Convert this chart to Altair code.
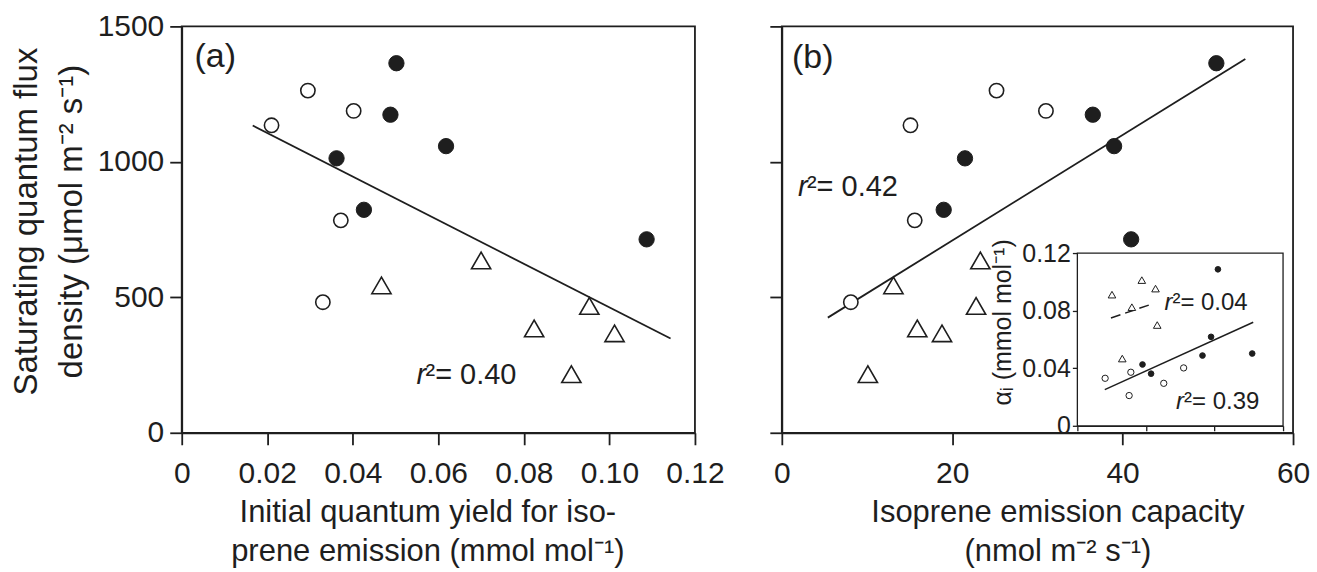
import altair as alt
import pandas as pd

FONT = "Liberation Sans"
INK = "#1e1e1e"

# ---- data ----------------------------------------------------------------
# open circles
open_yield = [0.0210, 0.0295, 0.0402, 0.0372, 0.0330]
open_cap = [15.1, 25.2, 31.0, 15.6, 8.1]
open_flux = [1135, 1263, 1188, 784, 482]
# filled circles
filled_yield = [0.0502, 0.0488, 0.0618, 0.0362, 0.0426, 0.1087]
filled_cap = [51.0, 36.5, 39.0, 21.5, 19.0, 41.0]
filled_flux = [1364, 1174, 1058, 1013, 823, 714]
# open triangles
tri_yield = [0.0467, 0.0700, 0.0953, 0.0824, 0.1012, 0.0911]
tri_cap = [13.1, 23.3, 22.8, 15.9, 18.8, 10.1]
tri_flux = [544, 636, 468, 385, 367, 216]

# regression lines (end points)
fit_a_yield = [0.0166, 0.1143]
fit_a_flux = [1134, 348]
fit_b_cap = [5.4, 54.4]
fit_b_flux = [425, 1380]
fit_in_solid_cap = [8.0, 51.3]
fit_in_solid_yield = [0.0251, 0.0719]
fit_in_dash_cap = [9.8, 21.9]
fit_in_dash_yield = [0.0749, 0.0847]

yield_ticks = [0, 0.02, 0.04, 0.06, 0.08, 0.10, 0.12]
flux_ticks = [0, 500, 1000, 1500]
cap_ticks = [0, 20, 40, 60]
inset_yield_ticks = [0, 0.04, 0.08, 0.12]

open_df = pd.DataFrame({"yield": open_yield, "cap": open_cap, "flux": open_flux})
filled_df = pd.DataFrame({"yield": filled_yield, "cap": filled_cap, "flux": filled_flux})
tri_df = pd.DataFrame({"yield": tri_yield, "cap": tri_cap, "flux": tri_flux})

fit_a = pd.DataFrame({"yield": fit_a_yield, "flux": fit_a_flux})
fit_b = pd.DataFrame({"cap": fit_b_cap, "flux": fit_b_flux})
fit_in_solid = pd.DataFrame({"cap": fit_in_solid_cap, "yield": fit_in_solid_yield})
fit_in_dash = pd.DataFrame({"cap": fit_in_dash_cap, "yield": fit_in_dash_yield})

# annotation anchors (data units)
lab_a = pd.DataFrame({"yield": [0.0030], "flux": [1386]})
r2_a = pd.DataFrame({"yield": [0.0549], "flux": [214]})
lab_b = pd.DataFrame({"cap": [1.2], "flux": [1382]})
r2_b = pd.DataFrame({"cap": [1.9], "flux": [907]})
r2_in_tri = pd.DataFrame({"cap": [25.4], "yield": [0.0856]})
r2_in_circ = pd.DataFrame({"cap": [28.8], "yield": [0.0163]})
inset_box = pd.DataFrame({"cap": [0], "cap2": [60], "yield": [0], "yield2": [0.12]})

LABEL0 = "datum.value == 0 ? '0' : format(datum.value, '.2f')"

# ---- marks ------------------------------------------------------------------
def pts(df, kind, x, y, big=True):
    if kind == "open":
        m = dict(shape="circle", fill="white", stroke=INK, strokeWidth=1.6 if big else 1.0,
                 size=205 if big else 40)
    elif kind == "filled":
        m = dict(shape="circle", fill=INK, stroke=INK, strokeWidth=1.0, size=235 if big else 32)
    else:
        m = dict(shape="triangle-up", fill="white", stroke=INK,
                 strokeWidth=1.6 if big else 1.0, size=370 if big else 58)
    return alt.Chart(df).mark_point(filled=True, opacity=1, **m).encode(x=x, y=y)


def r2(df, x, y, label, size, dx):
    base = alt.Chart(df)
    r = base.mark_text(text="r", fontStyle="italic", align="left", baseline="middle",
                       font=FONT, fontSize=size, color=INK).encode(x=x, y=y)
    rest = base.mark_text(text=label, align="left", baseline="middle", font=FONT,
                          fontSize=size, color=INK, dx=dx).encode(x=x, y=y)
    return [r, rest]


# ---- panel (a) -------------------------------------------------------------
xa = alt.X("yield:Q", scale=alt.Scale(domain=[0, 0.12], nice=False, zero=False),
           axis=alt.Axis(values=yield_ticks, labelExpr=LABEL0,
                         title=["Initial quantum yield for iso-", "prene emission (mmol mol⁻¹)"],
                         titleFontSize=31, titleX=246, titlePadding=9, titleLineHeight=39))
ya = alt.Y("flux:Q", scale=alt.Scale(domain=[0, 1500], nice=False),
           axis=alt.Axis(values=flux_ticks, format="d", labelPadding=6,
                         title=["Saturating quantum flux", "density (μmol m⁻² s⁻¹)"],
                         titleFontSize=33, titleLineHeight=45, titlePadding=9, titleY=195))

panel_a = alt.layer(
    alt.Chart(fit_a).mark_line(color=INK, strokeWidth=1.8).encode(x=xa, y=ya),
    pts(open_df, "open", xa, ya),
    pts(filled_df, "filled", xa, ya),
    pts(tri_df, "tri", xa, ya),
    alt.Chart(lab_a).mark_text(text="(a)", align="left", baseline="middle", font=FONT,
                               fontSize=34, color=INK).encode(x=xa, y=ya),
    *r2(r2_a, xa, ya, "²= 0.40", 29, 9),
).properties(width=514, height=407)

# ---- panel (b) -------------------------------------------------------------
xb = alt.X("cap:Q", scale=alt.Scale(domain=[0, 60], nice=False, zero=False),
           axis=alt.Axis(values=cap_ticks, format="d",
                         title=["Isoprene emission capacity", "(nmol m⁻² s⁻¹)"],
                         titleFontSize=31, titleX=276, titlePadding=9, titleLineHeight=39))
yb = alt.Y("flux:Q", scale=alt.Scale(domain=[0, 1500], nice=False),
           axis=alt.Axis(values=flux_ticks, labels=False, title=None))

main_b = alt.layer(
    alt.Chart(fit_b).mark_line(color=INK, strokeWidth=1.8).encode(x=xb, y=yb),
    pts(open_df, "open", xb, yb),
    pts(filled_df, "filled", xb, yb),
    pts(tri_df, "tri", xb, yb),
    alt.Chart(lab_b).mark_text(text="(b)", align="left", baseline="middle", font=FONT,
                               fontSize=34, color=INK).encode(x=xb, y=yb),
    *r2(r2_b, xb, yb, "²= 0.42", 29, 9),
)

# inset: own scales mapped onto a sub-rectangle of panel (b)
xi = alt.X("cap:Q", scale=alt.Scale(domain=[0, 60], range=[296, 502], nice=False, zero=False),
           axis=alt.Axis(orient="bottom", offset=-7, values=cap_ticks, labels=False,
                         tickSize=5, tickWidth=1.3, domainWidth=1.3, title=None))
yi = alt.Y("yield:Q", scale=alt.Scale(domain=[0, 0.12], range=[400, 227], nice=False, zero=False),
           axis=alt.Axis(orient="left", offset=-296, values=inset_yield_ticks, labelExpr=LABEL0,
                         labelFontSize=25, labelPadding=2, tickSize=5, tickWidth=1.3,
                         domainWidth=1.3, title="αᵢ (mmol mol⁻¹)", titleFontSize=25,
                         titlePadding=6, titleY=296))

inset = alt.layer(
    alt.Chart(inset_box).mark_rect(fill="white", stroke=INK, strokeWidth=1.3).encode(
        x=xi, x2="cap2:Q", y=yi, y2="yield2:Q"),
    alt.Chart(fit_in_solid).mark_line(color=INK, strokeWidth=1.5).encode(x=xi, y=yi),
    alt.Chart(fit_in_dash).mark_line(color=INK, strokeWidth=1.5, strokeDash=[10, 5]).encode(x=xi, y=yi),
    pts(open_df, "open", xi, yi, big=False),
    pts(filled_df, "filled", xi, yi, big=False),
    pts(tri_df, "tri", xi, yi, big=False),
    *r2(r2_in_tri, xi, yi, "²= 0.04", 24, 8),
    *r2(r2_in_circ, xi, yi, "²= 0.39", 24, 8),
)

panel_b = alt.layer(main_b, inset).resolve_scale(x="independent", y="independent").properties(
    width=512, height=407)

chart = alt.hconcat(panel_a, panel_b, spacing=87, bounds="flush").properties(
    padding={"left": 9, "top": 10, "right": 6, "bottom": 1},
    background="white",
).configure_view(stroke=INK, strokeWidth=1.8).configure_axis(
    labelFont=FONT, titleFont=FONT, labelFontSize=30, titleFontSize=32,
    titleFontWeight="normal", labelColor=INK, titleColor=INK, domainColor=INK,
    tickColor=INK, domainWidth=1.8, tickWidth=1.8, tickSize=12, labelPadding=14,
    grid=False, titleLineHeight=38, titlePadding=12, labelFlush=False, labelOverlap=False,
)

chart.save("out.html", embed_options={"renderer": "svg", "actions": False})
